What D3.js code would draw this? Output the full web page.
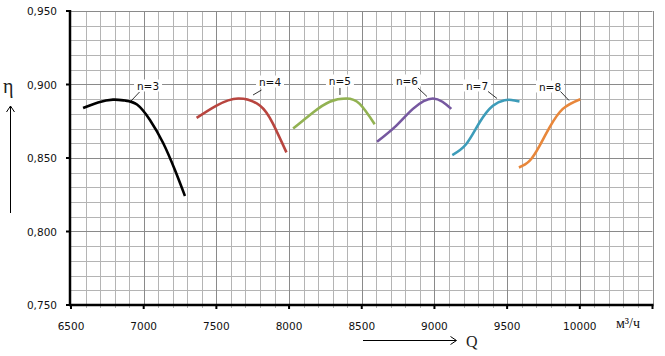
<!DOCTYPE html>
<html><head><meta charset="utf-8">
<script src="https://cdn.jsdelivr.net/npm/d3@7"></script>
<style>html,body{margin:0;padding:0;background:#fff;}svg{display:block;}</style>
</head><body>
<svg id="c" width="665" height="356"></svg>
<script>
// ---- data ----
const xTicks = [6500, 7000, 7500, 8000, 8500, 9000, 9500, 10000];
const yTicks = [0.75, 0.80, 0.85, 0.90, 0.95];
const yTickLabels = ["0,750", "0,800", "0,850", "0,900", "0,950"];
const seriesNames = ["n=3", "n=4", "n=5", "n=6", "n=7", "n=8"];
const q3 = [6583, 6686, 6789, 6871, 6954, 7043, 7133, 7215, 7284];
const e3 = [0.8840, 0.8878, 0.8897, 0.8891, 0.8864, 0.8759, 0.8604, 0.8418, 0.8241];
const q4 = [7364, 7501, 7650, 7799, 7890, 7982];
const e4 = [0.8773, 0.8857, 0.8905, 0.8857, 0.8732, 0.8538];
const q5 = [8028, 8165, 8280, 8394, 8486, 8589];
const e5 = [0.8700, 0.8810, 0.8883, 0.8905, 0.8868, 0.8730];
const q6 = [8605, 8738, 8852, 8990, 9116];
const e6 = [0.8610, 0.8720, 0.8834, 0.8905, 0.8834];
const q7 = [9123, 9219, 9311, 9402, 9482, 9530, 9585];
const e7 = [0.8520, 0.8595, 0.8743, 0.8856, 0.8893, 0.8895, 0.8885];
const q8 = [9581, 9654, 9723, 9792, 9883, 10003];
const e8 = [0.8435, 0.8480, 0.8583, 0.8708, 0.8834, 0.8900];
const seriesQ = [q3, q4, q5, q6, q7, q8];
const seriesE = [e3, e4, e5, e6, e7, e8];
const xUnit = "м³/ч";

// ---- layout / style ----
const colors = ["#000000", "#b8453f", "#92b252", "#7658a0", "#3d9cb9", "#e8873b"];
// label anchors in data units
const labelQ = [7030, 7869, 8350, 8811, 9293, 9795];
const labelE = [0.8990, 0.9017, 0.9024, 0.9024, 0.8990, 0.8983];
// leader offsets (px) relative to label centre: [x1,y1,x2,y2]
const leaders = [[-17,15,-8.5,6],[-17,13,-8.5,8],[0,7,0,14],[11,7,20,15.5],[11,5.5,20,12.5],[10.5,4.5,19,13.5]];

const svg = d3.select("#c");
const x = d3.scaleLinear().domain([6500, 10500]).range([71, 652.5]);
const y = d3.scaleLinear().domain([0.75, 0.95]).range([305, 11]);

const g = svg.append("g");
// minor grid
const minorX = d3.range(6600, 10501, 100).filter(v => v % 500 !== 0);
const minorY = d3.range(0.76, 0.951, 0.01).filter(v => Math.abs(Math.round(v*100) % 5) !== 0);
g.selectAll(".mx").data(minorX).join("line")
  .attr("x1", d => Math.round(x(d)) + 0.5).attr("x2", d => Math.round(x(d)) + 0.5)
  .attr("y1", y(0.95)).attr("y2", y(0.75) + 3)
  .attr("stroke", "#b4b4b4").attr("stroke-width", 1);
g.selectAll(".my").data(minorY).join("line")
  .attr("y1", d => Math.round(y(d)) + 0.5).attr("y2", d => Math.round(y(d)) + 0.5)
  .attr("x1", x(6500)).attr("x2", x(10500))
  .attr("stroke", "#b4b4b4").attr("stroke-width", 1);
// major grid
g.selectAll(".Mx").data(xTicks.concat([10500]).filter(v => v > 6500)).join("line")
  .attr("x1", d => Math.round(x(d)) + 0.5).attr("x2", d => Math.round(x(d)) + 0.5)
  .attr("y1", y(0.95)).attr("y2", y(0.75))
  .attr("stroke", "#8a8a8a").attr("stroke-width", 1);
g.selectAll(".My").data(yTicks.filter(v => v > 0.75)).join("line")
  .attr("y1", d => Math.round(y(d)) + 0.5).attr("y2", d => Math.round(y(d)) + 0.5)
  .attr("x1", x(6500)).attr("x2", x(10500))
  .attr("stroke", "#8a8a8a").attr("stroke-width", 1);

// axes
g.append("line").attr("x1", 70).attr("x2", 70).attr("y1", y(0.95) - 1).attr("y2", y(0.75) + 1)
  .attr("stroke", "#000").attr("stroke-width", 2.5);
g.append("line").attr("x1", 69).attr("x2", x(10500) + 1).attr("y1", y(0.75)).attr("y2", y(0.75))
  .attr("stroke", "#000").attr("stroke-width", 2.5);
g.selectAll(".xt").data(xTicks.concat([10500])).join("line")
  .attr("x1", d => x(d)).attr("x2", d => x(d)).attr("y1", y(0.75)).attr("y2", y(0.75) + 4)
  .attr("stroke", "#000").attr("stroke-width", 2);
g.selectAll(".yt").data(yTicks).join("line")
  .attr("y1", d => y(d)).attr("y2", d => y(d)).attr("x1", 66).attr("x2", 70)
  .attr("stroke", "#000").attr("stroke-width", 2);

// tick labels
g.selectAll(".xl").data(xTicks).join("text")
  .attr("x", d => x(d)).attr("y", 330).attr("text-anchor", "middle")
  .attr("font-family", "DejaVu Sans").attr("font-size", 10.5).attr("fill", "#111")
  .text(d => d);
g.selectAll(".yl").data(yTicks).join("text")
  .attr("x", 57).attr("y", d => y(d) + 4).attr("text-anchor", "end")
  .attr("font-family", "DejaVu Sans").attr("font-size", 10.5).attr("fill", "#111")
  .text((d, i) => yTickLabels[i]);

// curves
const line = d3.line().x(d => x(d[0])).y(d => y(d[1])).curve(d3.curveNatural);
seriesQ.forEach((qs, i) => {
  const pts = qs.map((q, j) => [q, seriesE[i][j]]);
  g.append("path").attr("d", line(pts)).attr("fill", "none")
    .attr("stroke", colors[i]).attr("stroke-width", 2.6).attr("stroke-linecap", "butt");
});

// labels
seriesNames.forEach((nm, i) => {
  const cx = x(labelQ[i]), cy = y(labelE[i]);
  g.append("rect").attr("x", cx - 14).attr("y", cy - 6.5).attr("width", 28).attr("height", 12).attr("fill", "#fff");
  const l = leaders[i];
  g.append("line").attr("x1", cx + l[0]).attr("y1", cy + l[1]).attr("x2", cx + l[2]).attr("y2", cy + l[3])
    .attr("stroke", "#000").attr("stroke-width", 0.8);
  g.append("text").attr("x", cx).attr("y", cy + 4).attr("text-anchor", "middle")
    .attr("font-family", "DejaVu Sans").attr("font-size", 10.5).attr("fill", "#111").text(nm);
});

// unit label
g.append("text").attr("x", 616).attr("y", 328)
  .attr("font-family", "Liberation Serif").attr("font-size", 14).attr("fill", "#111")
  .text(xUnit);

// Q arrow
g.append("line").attr("x1", 363).attr("x2", 456).attr("y1", 340.5).attr("y2", 340.5).attr("stroke", "#000").attr("stroke-width", 1);
g.append("path").attr("d", "M450.5,336.5 L456.5,340.5 L450.5,344.5").attr("fill", "none").attr("stroke", "#000").attr("stroke-width", 1);
g.append("text").attr("x", 466).attr("y", 347).attr("font-family", "Liberation Serif").attr("font-size", 16).attr("fill", "#222").text("Q");

// eta arrow
g.append("line").attr("x1", 10.5).attr("x2", 10.5).attr("y1", 106).attr("y2", 213).attr("stroke", "#000").attr("stroke-width", 1);
g.append("path").attr("d", "M6.5,112 L10.5,106 L14.5,112").attr("fill", "none").attr("stroke", "#000").attr("stroke-width", 1);
g.append("text").attr("x", 3).attr("y", 93).attr("font-family", "Liberation Serif").attr("font-size", 20).attr("fill", "#222").text("η");
</script>
</body></html>
